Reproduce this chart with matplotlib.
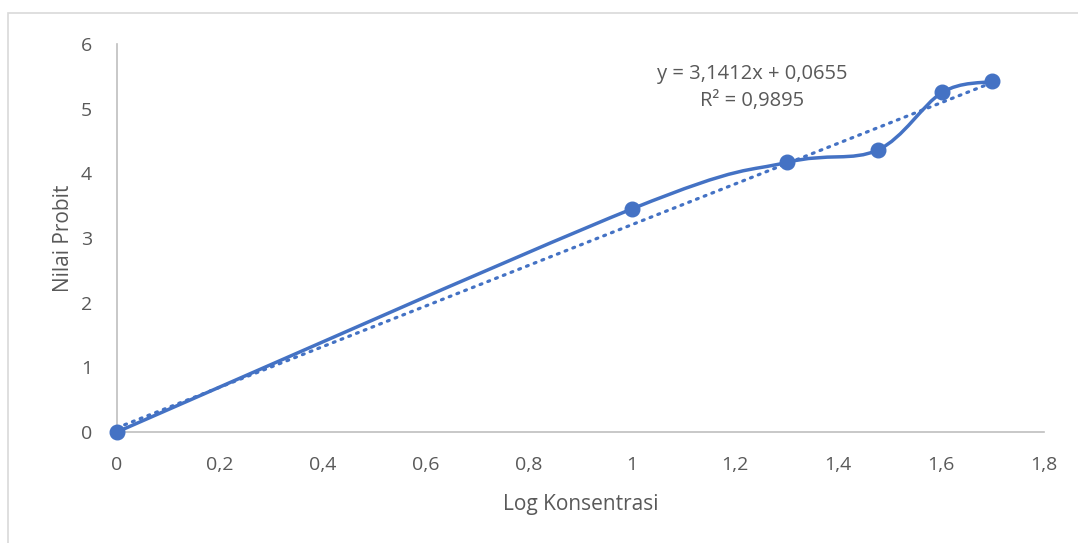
import numpy as np
import matplotlib.pyplot as plt
from matplotlib.path import Path
from matplotlib.patches import PathPatch, Rectangle

# data
log_konsentrasi = [0, 1, 1.301, 1.477, 1.602, 1.699]
nilai_probit = [0, 3.45, 4.17, 4.36, 5.25, 5.42]
slope = 3.1412
intercept = 0.0655
r2 = 0.9895
x_ticks = [0, 0.2, 0.4, 0.6, 0.8, 1, 1.2, 1.4, 1.6, 1.8]
y_ticks = [0, 1, 2, 3, 4, 5, 6]

blue = '#4472C4'
gray = '#595959'
plt.rcParams['font.family'] = ['Open Sans', 'DejaVu Sans']

fig = plt.figure(figsize=(10.78, 5.43), dpi=100)
fig.patches.append(Rectangle((8 / 1078, -0.1), 1.2, 1 - 13 / 543 + 0.1,
                             transform=fig.transFigure, fill=False,
                             edgecolor='#D9D9D9', linewidth=1.2))
ax = fig.add_axes([0.1085, 0.2044, 0.86, 0.7146])


# Excel-like smoothed line: cubic Bezier through points (Catmull-Rom)
def smooth_path(xs, ys):
    pts = np.column_stack([xs, ys])
    n = len(pts)
    verts = [pts[0]]
    codes = [Path.MOVETO]
    for i in range(n - 1):
        p0 = pts[max(i - 1, 0)]
        p1 = pts[i]
        p2 = pts[i + 1]
        p3 = pts[min(i + 2, n - 1)]
        c1 = p1 + (p2 - p0) / 6
        c2 = p2 - (p3 - p1) / 6
        verts += [c1, c2, p2]
        codes += [Path.CURVE4] * 3
    return Path(verts, codes)


ax.add_patch(PathPatch(smooth_path(log_konsentrasi, nilai_probit), fill=False,
                       edgecolor=blue, linewidth=2.5, capstyle='round', zorder=3))
ax.plot(log_konsentrasi, nilai_probit, 'o', color=blue, markersize=10.5,
        zorder=4, clip_on=False)

# linear trend line
xt = np.array([log_konsentrasi[0], log_konsentrasi[-1]])
ax.plot(xt, slope * xt + intercept, color=blue, linewidth=2.3,
        linestyle=(0, (0.6, 2.0)), dash_capstyle='round', zorder=2)

ax.text(1.233, 5.33, f'y = {slope:.4f}x + {intercept:.4f}'.replace('.', ',')
        + '\n' + f'R² = {r2:.4f}'.replace('.', ','),
        ha='center', va='center', fontsize=14.5, color=gray, linespacing=1.45)

ax.set_xlim(0, 1.8)
ax.set_ylim(0, 6)
ax.set_xticks(x_ticks)
ax.set_xticklabels([f'{t:g}'.replace('.', ',') for t in x_ticks])
ax.set_yticks(y_ticks)
ax.tick_params(length=0, labelsize=14, labelcolor=gray)
ax.tick_params(axis='x', pad=17)
ax.tick_params(axis='y', pad=18)
for s in ['top', 'right']:
    ax.spines[s].set_visible(False)
for s in ['left', 'bottom']:
    ax.spines[s].set_color('#BFBFBF')
    ax.spines[s].set_linewidth(1.2)
ax.set_xlabel('Log Konsentrasi', fontsize=15, color=gray, labelpad=15)
ax.set_ylabel('Nilai Probit', fontsize=15, color=gray, labelpad=5)

fig.savefig('out.png', dpi=100)
